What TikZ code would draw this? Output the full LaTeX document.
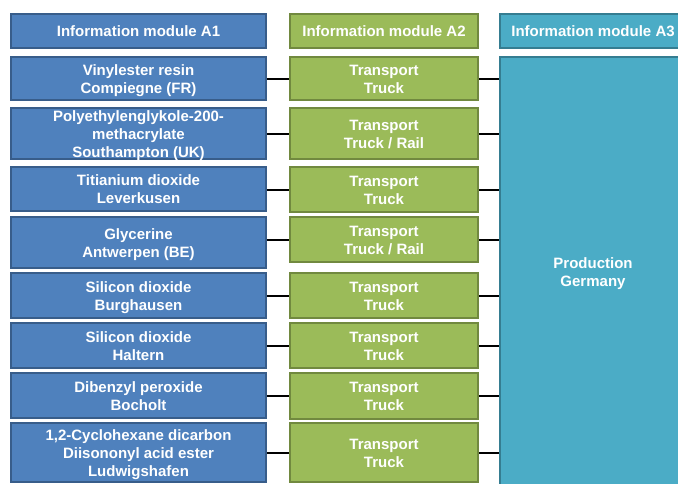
\documentclass[tikz,border=0pt]{standalone}
\usepackage{fontspec}
\setmainfont{Liberation Sans}
\definecolor{bluefill}{HTML}{4F81BD}
\definecolor{blueline}{HTML}{385D8A}
\definecolor{greenfill}{HTML}{9BBB59}
\definecolor{greenline}{HTML}{71893F}
\definecolor{tealfill}{HTML}{4BACC6}
\definecolor{tealline}{HTML}{357D91}
\newcommand\lbl[1]{\raisebox{-2pt}[\dimexpr\height-3pt\relax][\dimexpr\depth-3pt\relax]{\begin{tabular}{@{}c@{}}#1\end{tabular}}}
\begin{document}
\begin{tikzpicture}[x=1pt,y=-1pt,
  box/.style={rectangle, inner sep=0pt, line width=1.5pt,
    text=white, font=\fontsize{15}{18}\selectfont\bfseries},
  aone/.style={box, fill=bluefill, draw=blueline, minimum width=255pt},
  atwo/.style={box, fill=greenfill, draw=greenline, minimum width=188pt},
  athree/.style={box, fill=tealfill, draw=tealline, minimum width=186pt},
  link/.style={line width=2pt, black}]
\useasboundingbox (0,0) rectangle (678,483);
\clip (0,0) rectangle (678,483);
% headers
\node[aone, minimum height=34pt] (h1) at (138.5,31) {\lbl{Information module A1}};
\node[atwo, minimum height=34pt] (h2) at (384,31) {\lbl{Information module A2}};
\node[athree, minimum height=34pt] (h3) at (593,31) {\lbl{Information module A3}};
% A3 main
\node[athree, minimum height=430pt] (p) at (593,272) {\lbl{Production\\Germany}};
% A1 column
\node[aone, minimum height=43pt] (a1) at (138.5,78.5) {\lbl{Vinylester resin\\Compiegne (FR)}};
\node[aone, minimum height=51pt] (a2) at (138.5,133.5) {\lbl{Polyethylenglykole-200-\\methacrylate\\Southampton (UK)}};
\node[aone, minimum height=44pt] (a3) at (138.5,189) {\lbl{Titianium dioxide\\Leverkusen}};
\node[aone, minimum height=51pt] (a4) at (138.5,242.5) {\lbl{Glycerine\\Antwerpen (BE)}};
\node[aone, minimum height=45pt] (a5) at (138.5,295.5) {\lbl{Silicon dioxide\\Burghausen}};
\node[aone, minimum height=45pt] (a6) at (138.5,345.5) {\lbl{Silicon dioxide\\Haltern}};
\node[aone, minimum height=45pt] (a7) at (138.5,395.5) {\lbl{Dibenzyl peroxide\\Bocholt}};
\node[aone, minimum height=59pt] (a8) at (138.5,452.5) {\lbl{1,2-Cyclohexane dicarbon\\Diisononyl acid ester\\Ludwigshafen}};
% A2 column
\node[atwo, minimum height=43pt] (t1) at (384,78.5) {\lbl{Transport\\Truck}};
\node[atwo, minimum height=51pt] (t2) at (384,133.5) {\lbl{Transport\\Truck / Rail}};
\node[atwo, minimum height=45pt] (t3) at (384,189.5) {\lbl{Transport\\Truck}};
\node[atwo, minimum height=45pt] (t4) at (384,239.5) {\lbl{Transport\\Truck / Rail}};
\node[atwo, minimum height=45pt] (t5) at (384,295.5) {\lbl{Transport\\Truck}};
\node[atwo, minimum height=45pt] (t6) at (384,345.5) {\lbl{Transport\\Truck}};
\node[atwo, minimum height=46pt] (t7) at (384,396) {\lbl{Transport\\Truck}};
\node[atwo, minimum height=59pt] (t8) at (384,452.5) {\lbl{Transport\\Truck}};
% connectors
\foreach \i in {1,...,8}{
  \draw[link] (a\i.east |- t\i.west) -- (t\i.west);
  \draw[link] (t\i.east) -- (p.west |- t\i.east);
}
\end{tikzpicture}
\end{document}
